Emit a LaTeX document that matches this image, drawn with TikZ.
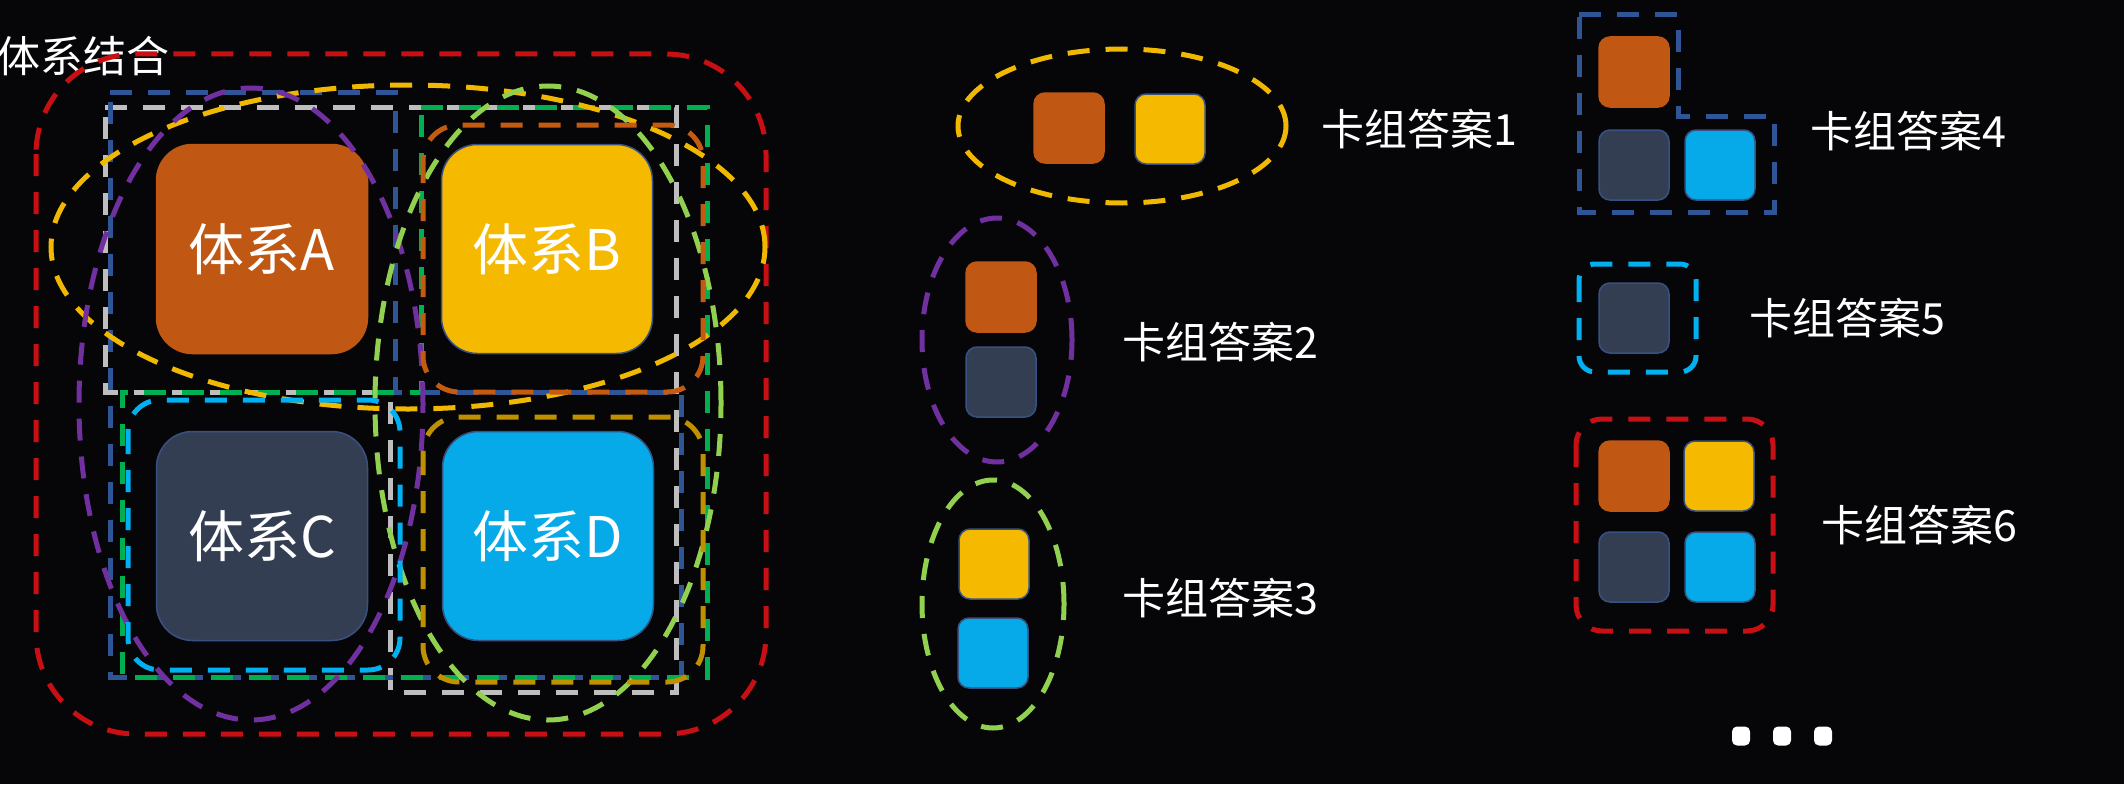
\documentclass[tikz,border=0pt]{standalone}
\usepackage{fontspec}
\setmainfont{Noto Sans CJK SC}
\definecolor{bgC}{RGB}{6,6,8}
\definecolor{orC}{RGB}{192,88,20}
\definecolor{yeC}{RGB}{245,185,0}
\definecolor{slC}{RGB}{52,62,82}
\definecolor{blC}{RGB}{6,170,232}
\definecolor{bdC}{RGB}{55,82,130}
\definecolor{dRed}{RGB}{200,16,20}
\definecolor{dYel}{RGB}{240,184,0}
\definecolor{dPur}{RGB}{112,48,160}
\definecolor{dLgr}{RGB}{146,208,80}
\definecolor{dGrn}{RGB}{0,176,80}
\definecolor{dNav}{RGB}{47,85,151}
\definecolor{dGry}{RGB}{190,190,190}
\definecolor{dOra}{RGB}{197,90,17}
\definecolor{dGld}{RGB}{191,144,0}
\definecolor{dCya}{RGB}{0,176,240}
\begin{document}
\begin{tikzpicture}[x=1pt,y=-1pt,
  bigbox/.style={rounded corners=36pt, minimum width=211pt, minimum height=209pt, inner sep=0pt, text=white, font=\fontsize{56}{60}\selectfont, line width=1.5pt},
  sq/.style={rounded corners=11pt, minimum width=70pt, minimum height=70pt, inner sep=0pt, line width=1.5pt},
  dsh/.style={line width=5pt, dash pattern=on 22pt off 16pt},
  lbl/.style={text=white, font=\fontsize{43}{48}\selectfont, anchor=west, inner sep=0pt},
  dotbox/.style={fill=white, rounded corners=5pt, minimum width=18pt, minimum height=19pt, inner sep=0pt}]
\fill[bgC] (0,0) rectangle (2124,784);
\useasboundingbox (0,0) rectangle (2124,784);

% title
\node[lbl] (title) at (-3,56) {体系结合};

% main four systems
\node[bigbox, fill=orC, draw=orC] (A) at (262,249) {体系A};
\node[bigbox, fill=yeC, draw=bdC] (B) at (547,249) {体系B};
\node[bigbox, fill=slC, draw=bdC] (C) at (262,536) {体系C};
\node[bigbox, fill=blC, draw=bdC] (D) at (548,536) {体系D};

% dashed groupings
\draw[dsh, dRed, rounded corners=100pt] (36,54) rectangle (766,734);
\draw[dsh, dGry] (105,107) -- (676,107) -- (676,692) -- (390,692) -- (390,392) -- (105,392) -- cycle;
\draw[dsh, dNav] (110,92) -- (395,92) -- (395,392) -- (681,392) -- (681,677) -- (110,677) -- cycle;
\draw[dsh, dGrn] (421,107) -- (707,107) -- (707,677) -- (122,677) -- (122,392) -- (421,392) -- cycle;
\draw[dsh, dYel] (408,247) ellipse [x radius=357pt, y radius=162pt];
\draw[dsh, dPur] (251,404) ellipse [x radius=172pt, y radius=316pt];
\draw[dsh, dLgr] (548,403) ellipse [x radius=173pt, y radius=317pt];
\draw[dsh, dOra, rounded corners=36pt] (423,125) rectangle (703,392);
\draw[dsh, dGld, rounded corners=36pt] (423,417) rectangle (703,682);
\draw[dsh, dCya, rounded corners=32pt] (128,400) rectangle (400,670);

% answer 1
\node[sq, fill=orC, draw=orC] (a1o) at (1069,128) {};
\node[sq, fill=yeC, draw=bdC] (a1y) at (1170,129) {};
\draw[dsh, dYel] (1122,126) ellipse [x radius=164pt, y radius=77pt];
\node[lbl] (t1) at (1321,129) {卡组答案1};

% answer 2
\node[sq, fill=orC, draw=orC] (a2o) at (1001,297) {};
\node[sq, fill=slC, draw=bdC] (a2c) at (1001,382) {};
\draw[dsh, dPur] (997,340) ellipse [x radius=75pt, y radius=122pt];
\node[lbl] (t2) at (1122,342) {卡组答案2};

% answer 3
\node[sq, fill=yeC, draw=bdC] (a3y) at (994,564) {};
\node[sq, fill=blC, draw=bdC] (a3b) at (993,653) {};
\draw[dsh, dLgr] (993,604) ellipse [x radius=71pt, y radius=124pt];
\node[lbl] (t3) at (1122,598) {卡组答案3};

% answer 4
\node[sq, fill=orC, draw=orC] (a4o) at (1634,72) {};
\node[sq, fill=slC, draw=bdC] (a4c) at (1634,165) {};
\node[sq, fill=blC, draw=bdC] (a4b) at (1720,165) {};
\draw[dsh, dNav] (1579,15) -- (1678,15) -- (1678,116) -- (1774,116) -- (1774,212) -- (1579,212) -- cycle;
\node[lbl] (t4) at (1810,131) {卡组答案4};

% answer 5
\node[sq, fill=slC, draw=bdC] (a5c) at (1634,318) {};
\draw[dsh, dCya, rounded corners=16pt] (1579,264) rectangle (1696,372);
\node[lbl] (t5) at (1749,318) {卡组答案5};

% answer 6
\node[sq, fill=orC, draw=orC] (a6o) at (1634,476) {};
\node[sq, fill=yeC, draw=bdC] (a6y) at (1719,476) {};
\node[sq, fill=slC, draw=bdC] (a6c) at (1634,567) {};
\node[sq, fill=blC, draw=bdC] (a6b) at (1720,567) {};
\draw[dsh, dRed, rounded corners=26pt] (1576,419) rectangle (1773,631);
\node[lbl] (t6) at (1821,525) {卡组答案6};

% ellipsis dots
\node[dotbox] (d1) at (1741,736) {};
\node[dotbox] (d2) at (1782,736) {};
\node[dotbox] (d3) at (1823,736) {};
\end{tikzpicture}
\end{document}
